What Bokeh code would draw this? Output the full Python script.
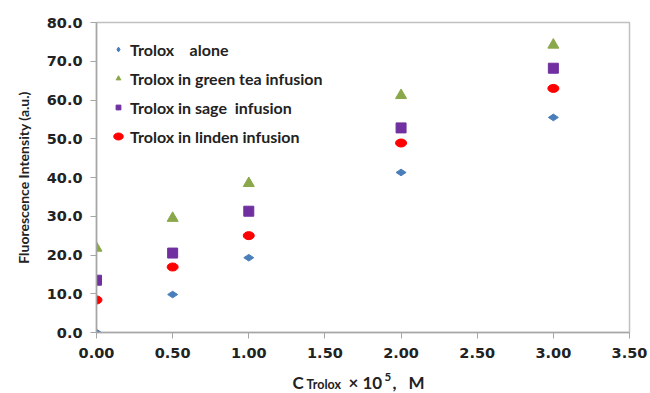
import math
from bokeh.plotting import figure
from bokeh.layouts import column
from bokeh.models import FixedTicker, NumeralTickFormatter, Legend, LegendItem
from bokeh.core.properties import value
from bokeh.embed import file_html
from bokeh.resources import INLINE

conc = [0.0, 0.5, 1.0, 2.0, 3.0]
alone = [0.0, 9.8, 19.3, 41.3, 55.5]
green_tea = [21.8, 29.5, 38.5, 61.2, 74.2]
sage = [13.5, 20.5, 31.3, 52.8, 68.2]
linden = [8.4, 16.9, 25.0, 48.9, 63.0]
names = ["Trolox    alone", "Trolox in green tea infusion", "Trolox in sage  infusion", "Trolox in linden infusion"]
y_ticks = [0, 10, 20, 30, 40, 50, 60, 70, 80]
x_ticks = [0, 0.5, 1.0, 1.5, 2.0, 2.5, 3.0, 3.5]
x_title_parts = ["C", "Trolox", "\u00d7 10", "5", ",", "M"]

FONT = "Lato"
TICKFONT = "DejaVu Sans"
TXT = "#222222"

p = figure(frame_width=533, frame_height=310, output_backend="svg", toolbar_location=None, title=None,
           x_range=(0, 3.5), y_range=(0, 80), min_border_left=96, min_border_right=21,
           min_border_top=22, min_border_bottom=36)
p.grid.visible = False
p.outline_line_color = "#c0c0c0"
p.outline_line_width = 1.5
p.border_fill_color = "white"

r1 = p.scatter(conc, alone, marker="diamond", size=10, angle=math.pi / 2, color="#4a7ebb")
r2 = p.scatter(conc, green_tea, marker="triangle", size=11, color="#8aa84a")
r3 = p.scatter(conc, sage, marker="square", size=10, color="#7030a0")
r4 = p.ellipse(conc, linden, width=11, height=8, width_units="screen", height_units="screen", color="#ff0000")

for ax in (p.xaxis[0], p.yaxis[0]):
    ax.axis_line_color = "#a6a6a6"
    ax.axis_line_width = 1.5
    ax.major_tick_line_color = "#a6a6a6"
    ax.major_tick_in = 0
    ax.major_tick_out = 6
    ax.minor_tick_line_color = None
    ax.major_label_text_font = TICKFONT
    ax.major_label_text_font_style = "bold"
    ax.major_label_text_font_size = "14.5px"
    ax.major_label_text_color = TXT

p.xaxis.ticker = FixedTicker(ticks=x_ticks)
p.yaxis.ticker = FixedTicker(ticks=y_ticks)
p.xaxis.formatter = NumeralTickFormatter(format="0.00")
p.yaxis.formatter = NumeralTickFormatter(format="0.0")
p.xaxis.major_label_standoff = 9
p.yaxis.major_label_standoff = 8

p.yaxis.axis_label = "Fluorescence Intensity (a.u.)"
p.yaxis.axis_label_text_font = FONT
p.yaxis.axis_label_text_font_style = "bold"
p.yaxis.axis_label_text_font_size = "14px"
p.yaxis.axis_label_text_color = TXT
p.yaxis.axis_label_standoff = 12

legend = Legend(items=[LegendItem(label=n, renderers=[r]) for n, r in zip(names, [r1, r2, r3, r4])],
                location="top_left")
legend.border_line_color = None
legend.background_fill_alpha = 0
legend.label_text_font = FONT
legend.label_text_font_style = "bold"
legend.label_text_font_size = "16px"
legend.label_text_color = TXT
legend.glyph_width = 12
legend.glyph_height = 22
legend.label_height = 22
legend.spacing = 7
legend.margin = 16
legend.padding = 7
legend.label_standoff = 6
p.add_layout(legend)

# x-axis title strip (C_Trolox x 10^5, M), coordinates in canvas pixels
p2 = figure(frame_width=533, frame_height=25, output_backend="svg", toolbar_location=None, title=None,
            x_range=(96, 629), y_range=(0, 25), min_border_left=96, min_border_right=21,
            min_border_top=0, min_border_bottom=0)
p2.axis.visible = False
p2.grid.visible = False
p2.outline_line_color = None
p2.border_fill_color = "white"
p2.background_fill_color = "white"

title_x = [292, 306, 348, 384, 392, 408]
title_y = [11, 9, 11, 17, 11, 11]
sizes = ["17px", "12.5px", "17px", "11.5px", "17px", "17px"]
for t, xx, yy, s in zip(x_title_parts, title_x, title_y, sizes):
    p2.text(x=[xx], y=[yy], text=[t], text_font=value(FONT), text_font_style="bold",
            text_font_size=s, text_color=TXT, text_baseline="alphabetic", text_align="left")

layout = column(p, p2, spacing=0)
open("out.html", "w").write(file_html(layout, INLINE))
